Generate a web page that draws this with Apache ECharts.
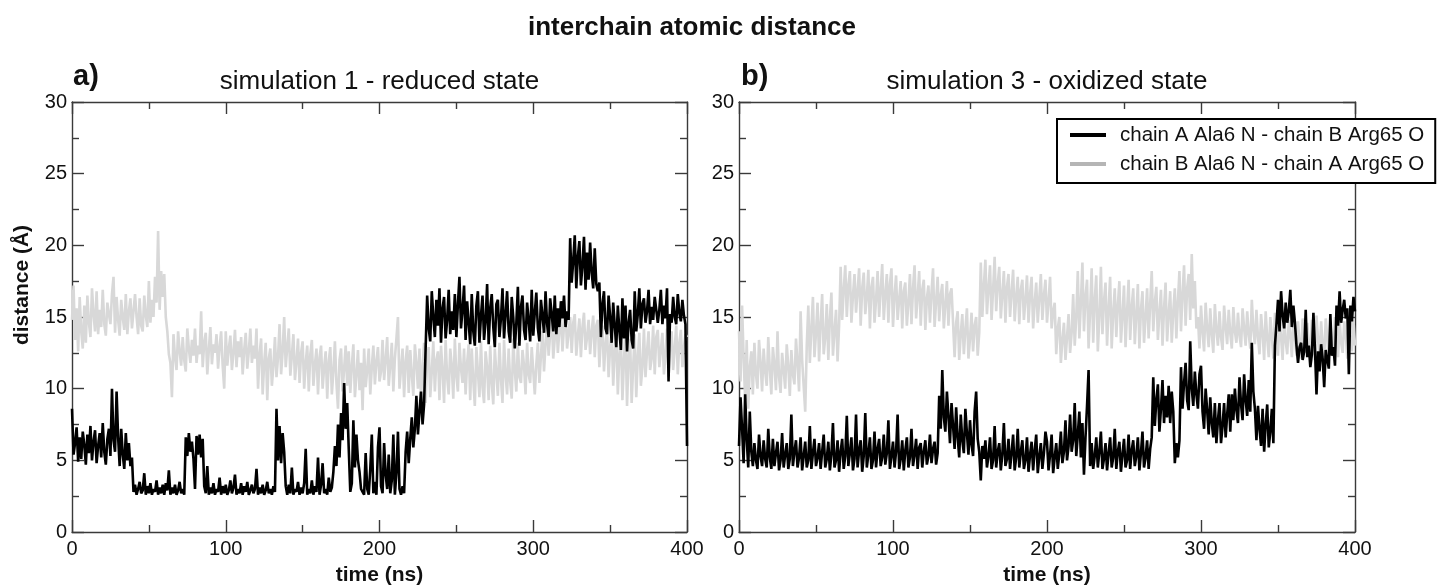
<!DOCTYPE html>
<html>
<head>
    <meta charset="utf-8">
    <title>interchain atomic distance</title>
    <script src="https://cdn.jsdelivr.net/npm/echarts@6/dist/echarts.min.js"></script>
    <style>
        html, body { margin: 0; padding: 0; background: #fff; }
        #main { width: 1445px; height: 587px; }
    </style>
</head>
<body>
<div id="main"></div>
<script type="text/javascript">
    // sampling step of the traces (ns)
    var timeStep = 1;
    var timeTicks = [0, 100, 200, 300, 400];
    var distTicks = [0, 5, 10, 15, 20, 25, 30];

    var mainTitle = 'interchain atomic distance';
    var panelTitles = ['simulation 1 - reduced state', 'simulation 3 - oxidized state'];
    var panelLetters = ['a)', 'b)'];
    var seriesNames = ['chain A Ala6 N - chain B Arg65 O', 'chain B Ala6 N - chain A Arg65 O'];

    // simulation 1, chain A Ala6 N - chain B Arg65 O (one value per ns, 20 per row)
    var sim1ChainA = [
        8.6, 5.4, 6.2, 7.3, 4.9, 6.6, 5.1, 7.0, 6.1, 4.7, 6.8, 5.5, 7.4, 5.0, 6.3, 7.1, 4.8, 6.0, 6.9, 5.2,
        7.6, 5.6, 4.7, 6.5, 7.2, 5.3, 10.0, 6.4, 5.6, 9.8, 6.6, 4.6, 7.2, 5.4, 4.4, 6.9, 5.0, 6.2, 4.6, 5.2,
        2.8, 3.3, 2.6, 3.0, 3.5, 2.7, 2.9, 4.1, 2.6, 3.2, 2.7, 3.4, 2.6, 3.0, 2.8, 3.6, 2.6, 3.1, 2.7, 3.3,
        2.6, 3.4, 2.9, 4.3, 2.6, 3.1, 2.7, 3.3, 2.6, 2.9, 3.5, 2.7, 3.0, 2.6, 6.6, 5.3, 6.9, 5.6, 6.3, 5.1,
        3.0, 6.7, 5.4, 6.8, 5.2, 6.5, 3.2, 2.7, 4.6, 2.6, 3.1, 2.7, 3.4, 2.6, 3.0, 2.8, 3.8, 2.6, 3.2, 2.7,
        3.3, 2.6, 2.9, 3.6, 2.7, 3.1, 4.0, 2.6, 3.0, 2.7, 3.4, 2.6, 3.2, 2.8, 3.5, 2.6, 2.9, 3.3, 2.7, 3.0,
        4.4, 2.6, 3.1, 2.7, 3.3, 2.6, 2.9, 3.5, 2.7, 3.0, 2.6, 3.2, 2.8, 8.6, 5.0, 7.4, 4.8, 6.9, 5.6, 3.2,
        2.6, 3.3, 2.7, 4.5, 2.6, 3.0, 2.8, 3.5, 2.6, 3.1, 2.7, 3.4, 5.8, 2.6, 3.0, 2.7, 3.6, 2.6, 3.2, 2.8,
        5.2, 2.6, 3.3, 4.8, 2.7, 3.0, 2.6, 3.8, 2.8, 3.1, 4.2, 6.0, 4.6, 7.5, 5.2, 8.3, 6.4, 10.4, 7.2, 9.0,
        5.8, 2.8, 3.4, 7.8, 4.5, 6.8, 5.0, 4.2, 3.0, 2.8, 2.6, 5.5, 3.0, 2.6, 4.4, 6.8, 2.7, 3.5, 2.6, 5.9,
        7.3, 3.2, 2.7, 6.2, 4.0, 3.0, 5.4, 2.7, 3.6, 6.8, 2.6, 4.1, 7.0, 3.0, 2.6, 3.2, 2.7, 5.6, 7.0, 4.8,
        6.5, 8.0, 5.9, 7.2, 9.5, 6.8, 8.4, 9.8, 7.5, 8.9, 12.8, 16.5, 14.2, 13.3, 16.8, 15.0, 13.6, 16.2, 14.4, 17.0,
        13.2, 15.6, 16.4, 13.5, 14.8, 16.9, 13.8, 15.4, 14.1, 16.6, 13.6, 15.9, 17.8, 14.2, 15.5, 17.2, 13.4, 16.1, 14.6, 13.1,
        16.6, 14.0, 13.0, 15.8, 16.8, 13.2, 15.1, 16.5, 13.4, 14.7, 17.3, 13.1, 15.6, 16.6, 14.3, 12.9, 15.9, 16.2, 13.6, 14.9,
        17.0, 13.5, 15.2, 16.8, 14.0, 13.2, 16.4, 15.0, 12.8, 14.6, 17.1, 13.0, 15.7, 16.5, 14.1, 13.4, 16.0, 14.8, 13.3, 16.9,
        13.7, 15.3, 16.7, 14.2, 13.3, 16.2, 15.1, 13.9, 16.8, 14.5, 13.6, 16.3, 15.2, 14.0, 16.5, 13.8, 15.6, 14.3, 16.1, 14.9,
        16.5, 14.3, 15.4, 14.8, 20.5, 17.4, 18.9, 20.7, 17.0, 19.2, 20.3, 17.2, 18.6, 20.6, 16.9, 19.5, 17.6, 20.2, 18.1, 17.0,
        19.8, 17.3, 16.8, 17.4, 13.6, 15.9, 16.8, 14.2, 13.8, 16.5, 15.0, 13.2, 16.0, 14.4, 12.9, 15.8, 14.1, 12.7, 16.3, 13.5,
        15.8, 12.6, 14.6, 15.5, 13.4, 12.8, 16.8, 14.0, 15.2, 17.0, 14.2, 15.9, 16.3, 14.6, 15.4, 16.9, 14.5, 15.7, 14.8, 16.4,
        16.3, 14.6, 15.5, 16.9, 14.5, 15.8, 14.9, 17.0, 10.5, 15.2, 14.6, 16.4, 15.0, 14.5, 16.6, 15.3, 14.7, 16.2, 15.1, 14.5,
        6.0
    ];
    // simulation 1, chain B Ala6 N - chain A Arg65 O
    var sim1ChainB = [
        14.8, 17.2, 13.4, 15.6, 12.6, 16.4, 14.0, 12.8, 15.8, 13.2, 16.5, 14.6, 13.6, 17.0, 15.2, 14.0, 16.8, 13.8, 15.5, 14.3,
        16.9, 14.5, 13.7, 16.0, 15.2, 14.5, 16.6, 17.8, 13.9, 16.4, 14.8, 13.7, 16.2, 15.0, 14.1, 16.6, 13.8, 15.4, 16.3, 14.2,
        14.1, 16.6, 15.0, 13.8, 16.3, 14.4, 14.0, 16.5, 15.1, 14.3, 17.5, 14.6, 16.2, 15.0, 17.8, 16.0, 21.0, 15.5, 18.2, 16.4,
        18.0, 15.0, 14.0, 12.4, 11.8, 9.4, 13.8, 12.2, 11.3, 14.0, 12.6, 11.6, 13.6, 12.0, 11.2, 14.2, 12.8, 11.8, 13.4, 12.3,
        14.2, 11.8, 13.0, 12.4, 15.4, 11.5, 13.2, 13.9, 11.0, 12.7, 14.3, 11.7, 13.1, 12.5, 13.8, 11.4, 12.9, 14.0, 11.6, 10.0,
        14.0, 11.6, 12.8, 13.7, 11.3, 12.5, 14.1, 11.5, 13.3, 12.2, 13.6, 11.0, 12.7, 13.9, 11.4, 12.6, 14.2, 11.8, 13.0, 12.1,
        14.2, 10.0, 12.4, 13.5, 9.6, 11.8, 13.2, 9.2, 12.1, 12.8, 10.2, 11.6, 13.6, 10.8, 12.2, 14.5, 11.0, 12.6, 15.0, 11.5,
        12.9, 14.2, 10.9, 12.3, 13.8, 10.6, 11.9, 13.5, 10.4, 12.5, 13.3, 10.0, 11.8, 13.0, 9.8, 12.4, 13.4, 10.2, 11.7, 12.8,
        9.6, 12.2, 13.0, 10.0, 11.5, 12.6, 9.3, 11.9, 12.9, 9.6, 11.2, 13.3, 10.4, 8.6, 12.0, 12.8, 9.8, 11.4, 13.0, 10.2,
        12.6, 9.7, 11.6, 13.1, 9.4, 11.0, 12.7, 9.9, 11.8, 8.5, 12.8, 10.1, 11.3, 12.8, 9.6, 11.5, 13.0, 10.3, 11.9, 12.9,
        10.5, 11.2, 13.4, 10.6, 12.0, 13.6, 10.2, 11.7, 13.2, 9.8, 12.1, 13.5, 15.0, 10.0, 11.4, 12.8, 9.4, 11.9, 13.0, 9.7,
        12.7, 11.0, 9.5, 13.1, 11.8, 10.0, 12.8, 9.3, 11.5, 13.2, 9.0, 12.1, 12.9, 9.4, 11.2, 13.3, 9.8, 12.0, 12.6, 9.2,
        13.0, 11.3, 9.0, 13.4, 10.8, 9.6, 12.8, 11.6, 9.3, 13.5, 10.9, 9.8, 13.2, 11.4, 10.4, 12.8, 9.6, 11.8, 13.1, 9.2,
        12.8, 10.6, 8.8, 12.9, 11.2, 9.4, 13.3, 10.1, 9.0, 12.6, 11.5, 9.2, 13.0, 10.4, 8.9, 12.8, 11.1, 9.5, 13.2, 10.7,
        9.0, 13.4, 11.0, 9.6, 12.8, 10.5, 9.3, 13.5, 11.3, 9.8, 13.2, 10.8, 10.4, 12.7, 11.6, 9.6, 13.2, 11.0, 10.4, 12.9,
        12.8, 9.6, 11.7, 13.2, 10.4, 12.3, 14.0, 11.2, 13.1, 14.7, 12.3, 13.8, 15.2, 12.1, 13.5, 15.0, 12.5, 14.1, 15.3, 12.6,
        14.4, 15.4, 12.8, 13.9, 15.0, 12.5, 14.6, 15.2, 12.3, 13.7, 14.9, 12.2, 14.3, 15.3, 12.7, 13.6, 14.8, 12.4, 14.0, 15.1,
        12.2, 14.4, 14.8, 11.5, 13.6, 14.4, 11.2, 13.1, 14.2, 10.8, 12.9, 14.0, 10.2, 12.6, 13.8, 9.6, 12.4, 13.6, 9.2, 12.0,
        14.0, 8.8, 12.3, 13.5, 9.0, 11.6, 13.8, 9.4, 12.2, 13.9, 10.2, 11.5, 14.2, 10.8, 12.6, 14.0, 11.3, 12.1, 14.4, 11.0,
        13.6, 14.1, 11.5, 12.7, 13.9, 11.0, 12.4, 14.2, 10.8, 13.1, 14.0, 11.3, 12.8, 14.4, 11.0, 13.2, 14.1, 11.5, 12.9, 13.8,
        13.6
    ];
    // simulation 3, chain A Ala6 N - chain B Arg65 O
    var sim3ChainA = [
        6.0, 9.4, 7.2, 4.8, 9.6, 6.5, 4.5, 8.4, 5.6, 4.6, 6.2, 5.0, 4.4, 6.8, 5.3, 4.6, 6.4, 5.1, 4.5, 7.2,
        5.2, 4.4, 6.5, 4.6, 5.5, 6.3, 4.3, 5.0, 6.9, 4.5, 5.4, 6.2, 4.4, 5.1, 8.2, 4.6, 5.6, 6.4, 4.5, 5.2,
        6.6, 4.3, 5.3, 6.3, 4.5, 5.0, 7.4, 4.4, 5.5, 6.5, 4.6, 5.2, 6.2, 4.4, 5.6, 6.8, 4.5, 5.1, 6.3, 4.3,
        5.4, 7.6, 4.5, 5.0, 6.4, 4.2, 5.6, 6.5, 4.4, 5.3, 8.1, 4.6, 5.5, 6.6, 4.3, 5.1, 8.2, 4.5, 5.7, 6.4,
        4.2, 5.3, 8.3, 4.5, 5.4, 6.6, 4.4, 5.0, 7.0, 4.5, 5.8, 6.5, 4.6, 5.2, 6.8, 4.7, 5.5, 7.8, 4.4, 5.3,
        6.3, 4.5, 5.6, 8.2, 4.4, 5.1, 6.4, 4.3, 5.7, 6.6, 4.5, 5.2, 7.2, 4.6, 5.4, 6.5, 4.4, 5.9, 6.2, 4.5,
        5.6, 6.4, 4.7, 5.3, 6.8, 4.8, 5.8, 6.3, 4.7, 5.5, 9.5, 7.2, 11.3, 8.0, 7.0, 9.8, 8.1, 6.2, 9.0, 7.4,
        5.8, 8.7, 6.6, 5.2, 8.2, 6.4, 5.5, 8.6, 6.9, 5.4, 7.8, 6.1, 5.3, 8.4, 9.8, 6.5, 5.6, 3.6, 6.0, 5.1,
        6.4, 4.5, 5.3, 6.6, 4.4, 5.0, 7.4, 4.5, 5.6, 6.2, 4.3, 5.4, 7.6, 4.6, 5.1, 6.5, 4.4, 5.5, 6.8, 4.3,
        5.2, 7.2, 4.5, 5.6, 6.4, 4.4, 5.0, 6.6, 4.2, 5.4, 6.3, 4.3, 5.7, 6.8, 4.1, 5.3, 6.2, 4.4, 5.5, 7.0,
        6.3, 4.3, 5.4, 6.8, 4.1, 5.2, 6.2, 4.4, 5.5, 7.0, 4.8, 5.6, 7.8, 5.0, 6.0, 8.2, 5.6, 6.4, 9.0, 5.3,
        6.8, 8.4, 5.2, 7.6, 4.0, 6.6, 8.8, 11.3, 4.6, 6.2, 4.4, 5.3, 6.6, 4.5, 5.6, 7.0, 4.4, 5.1, 6.2, 4.3,
        5.5, 6.6, 4.5, 5.2, 7.2, 4.4, 5.6, 6.3, 4.2, 5.4, 6.5, 4.5, 5.0, 6.8, 4.4, 5.7, 6.4, 4.6, 5.3, 6.6,
        4.3, 5.5, 7.0, 4.5, 5.2, 6.4, 4.4, 5.8, 6.6, 10.8, 7.4, 9.2, 10.3, 7.0, 8.6, 10.6, 7.6, 9.5, 8.0, 10.2,
        7.6, 9.8, 8.4, 4.8, 6.2, 5.2, 6.4, 11.5, 8.6, 10.4, 11.8, 9.2, 8.5, 13.3, 10.0, 8.8, 11.2, 9.6, 8.6, 11.0,
        11.6, 8.4, 7.2, 10.0, 8.5, 6.8, 9.4, 7.6, 6.6, 9.0, 6.2, 7.8, 9.0, 6.2, 7.4, 9.0, 6.6, 8.2, 9.6, 7.0,
        9.6, 7.8, 10.0, 8.5, 7.6, 10.8, 8.9, 7.8, 11.0, 9.2, 8.1, 10.6, 8.4, 13.2, 9.8, 8.6, 6.4, 8.8, 7.2, 6.0,
        8.6, 5.6, 7.5, 8.9, 5.9, 7.0, 8.6, 6.2, 13.0, 14.5, 16.2, 14.0, 16.8, 15.1, 14.2, 16.0, 14.6, 15.4, 16.9, 14.3,
        15.8, 14.6, 13.0, 11.8, 12.9, 13.2, 12.0, 12.6, 15.5, 12.2, 13.0, 11.5, 12.4, 15.3, 12.8, 9.6, 12.6, 11.2, 13.1, 12.1,
        10.1, 12.7, 12.0, 11.4, 15.2, 12.3, 12.9, 11.6, 15.8, 14.4, 16.8, 14.6, 15.5, 16.2, 14.9, 15.6, 11.0, 15.8, 14.7, 16.4,
        15.4
    ];
    // simulation 3, chain B Ala6 N - chain A Arg65 O
    var sim3ChainB = [
        14.0, 10.5, 15.8, 12.2, 9.2, 13.4, 8.6, 11.5, 12.6, 9.6, 13.2, 11.0, 10.0, 13.4, 11.8, 9.8, 12.8, 11.2, 10.2, 13.6,
        11.4, 9.6, 12.9, 11.7, 9.9, 14.0, 10.8, 9.7, 12.5, 11.3, 10.0, 13.1, 11.6, 9.5, 12.7, 11.0, 10.3, 13.5, 11.8, 9.8,
        15.4, 12.0, 10.2, 8.4, 13.0, 15.8, 11.8, 14.2, 16.4, 12.2, 13.9, 16.0, 11.9, 14.5, 16.6, 12.4, 13.6, 15.9, 12.0, 14.8,
        16.7, 12.3, 14.0, 15.5, 11.9, 14.4, 18.5, 14.8, 16.9, 18.6, 15.0, 17.2, 18.2, 14.6, 16.5, 18.0, 15.3, 16.8, 18.4, 14.4,
        17.0, 18.1, 15.2, 16.4, 18.3, 14.2, 17.1, 17.8, 14.6, 16.2, 18.2, 15.0, 16.9, 18.7, 14.8, 16.6, 18.0, 14.6, 17.3, 18.4,
        14.3, 16.5, 17.9, 14.8, 16.2, 17.5, 14.2, 16.8, 17.4, 14.4, 16.0, 18.0, 14.5, 17.0, 18.6, 14.9, 16.4, 18.2, 14.4, 16.9,
        17.6, 14.1, 16.3, 17.2, 14.6, 16.7, 18.4, 14.3, 16.1, 17.8, 14.7, 16.5, 17.3, 14.2, 15.9, 17.5, 14.4, 16.6, 17.0, 14.6,
        12.2, 14.6, 15.4, 12.0, 13.8, 15.2, 12.4, 14.1, 15.6, 12.1, 13.5, 15.3, 12.6, 14.4, 15.0, 12.3, 13.9, 18.8, 15.0, 17.2,
        19.0, 15.2, 17.0, 18.6, 14.8, 16.9, 19.2, 15.4, 17.3, 18.5, 14.9, 16.6, 18.2, 14.6, 17.1, 18.0, 15.0, 16.7, 18.3, 14.7,
        16.4, 17.8, 14.5, 16.9, 17.6, 14.8, 16.2, 17.9, 14.6, 16.6, 17.8, 14.2, 16.0, 17.4, 14.6, 16.3, 18.0, 14.8, 16.5, 17.6,
        14.6, 16.1, 17.8, 14.2, 15.4, 16.0, 12.4, 14.2, 15.0, 11.8, 13.4, 14.6, 12.0, 13.6, 15.2, 12.5, 13.9, 16.6, 13.0, 15.0,
        18.2, 13.5, 16.0, 18.8, 14.0, 16.4, 17.6, 12.8, 15.5, 18.4, 13.2, 16.2, 17.9, 12.6, 15.0, 18.5, 13.8, 16.1, 17.4, 13.0,
        15.6, 17.8, 12.8, 15.3, 17.0, 13.6, 15.8, 17.5, 13.2, 15.1, 17.2, 12.9, 15.4, 17.6, 13.4, 15.7, 17.0, 13.1, 15.2, 17.3,
        12.8, 15.5, 16.8, 13.2, 15.0, 17.0, 13.5, 15.9, 18.2, 14.0, 16.0, 17.1, 13.4, 15.3, 16.9, 13.0, 15.6, 17.4, 13.3, 15.2,
        16.8, 13.2, 15.4, 17.0, 13.5, 16.1, 18.2, 14.0, 16.6, 18.6, 14.4, 17.0, 18.0, 14.8, 19.4, 15.6, 17.5, 14.2, 15.0, 12.8,
        15.8, 14.0, 12.6, 16.0, 14.2, 12.9, 15.6, 13.8, 12.5, 15.9, 14.1, 13.0, 15.4, 13.6, 12.7, 15.8, 14.3, 13.1, 15.5, 13.9,
        12.8, 15.7, 14.0, 13.2, 15.3, 13.7, 12.9, 15.6, 14.2, 13.0, 15.4, 13.8, 12.8, 16.2, 14.1, 13.1, 15.5, 13.6, 12.4, 15.2,
        13.9, 12.0, 15.4, 13.5, 12.2, 15.0, 13.7, 12.1, 15.3, 13.4, 12.3, 14.9, 13.6, 12.0, 15.1, 13.3, 12.4, 14.8, 13.8, 12.2,
        15.0, 13.5, 12.3, 14.7, 13.2, 12.1, 14.9, 13.6, 12.5, 14.6, 13.1, 12.2, 14.8, 13.7, 12.0, 15.1, 13.4, 12.3, 14.7, 13.0,
        12.2, 14.9, 13.5, 12.1, 14.6, 13.3, 12.4, 15.0, 13.6, 12.2, 14.8, 13.2, 12.5, 14.7, 13.8, 12.1, 14.9, 13.4, 12.6, 14.8,
        13.0
    ];

    var fontFamily = '"Liberation Sans", Arial, sans-serif';
    var axisColor = '#3a3a3a';
    var blackColor = '#000000';
    var greyColor = '#d8d8d8';

    function toPairs(values) {
        return values.map(function (v, i) { return [i * timeStep, v]; });
    }

    function makeAxis(ticks, gridIndex, position, showLabel, labelMargin) {
        return {
            type: 'value',
            gridIndex: gridIndex,
            position: position,
            min: ticks[0],
            max: ticks[ticks.length - 1],
            interval: ticks[1] - ticks[0],
            axisLine: { show: true, onZero: false, lineStyle: { color: axisColor, width: 1.4 } },
            axisTick: { show: true, inside: true, length: 12, lineStyle: { color: axisColor, width: 1.4 } },
            minorTick: { show: true, splitNumber: 2, length: 7, lineStyle: { color: axisColor, width: 1.4 } },
            splitLine: { show: false },
            minorSplitLine: { show: false },
            axisLabel: { show: showLabel, fontSize: 20, color: '#111', margin: labelMargin, fontFamily: fontFamily }
        };
    }

    var xAxes = [];
    var yAxes = [];
    for (var g = 0; g < 2; g++) {
        var xb = makeAxis(timeTicks, g, 'bottom', true, 7);
        xb.name = 'time (ns)';
        xb.nameLocation = 'middle';
        xb.nameGap = 33;
        xb.nameTextStyle = { fontSize: 21, fontWeight: 'bold', color: '#111', fontFamily: fontFamily };
        xAxes.push(xb);
        xAxes.push(makeAxis(timeTicks, g, 'top', false, 5));
        yAxes.push(makeAxis(distTicks, g, 'left', true, 5));
        yAxes.push(makeAxis(distTicks, g, 'right', false, 5));
    }

    function lineSeries(name, values, g, color, z) {
        return {
            type: 'line',
            name: name,
            xAxisIndex: g * 2,
            yAxisIndex: g * 2,
            data: toPairs(values),
            symbol: 'none',
            showSymbol: false,
            sampling: null,
            silent: true,
            z: z,
            lineStyle: { color: color, width: 2.6, join: 'bevel' },
            itemStyle: { color: color }
        };
    }

    var myChart = echarts.init(document.getElementById('main'), null, { renderer: 'canvas' });

    myChart.setOption({
        animation: false,
        backgroundColor: '#ffffff',
        textStyle: { fontFamily: fontFamily },
        grid: [
            { left: 72, top: 102, width: 615, height: 430, outerBoundsMode: 'none' },
            { left: 739, top: 102, width: 616, height: 430, outerBoundsMode: 'none' }
        ],
        xAxis: xAxes,
        yAxis: yAxes,
        legend: {
            orient: 'vertical',
            left: 1057,
            top: 119,
            icon: 'rect',
            itemWidth: 36,
            itemHeight: 4,
            itemGap: 5,
            padding: [4, 11, 7, 13],
            borderColor: '#000',
            borderWidth: 2,
            backgroundColor: '#fff',
            selectedMode: false,
            textStyle: { fontSize: 20.5, color: '#111', lineHeight: 24, padding: [0, 0, 0, 9], fontFamily: fontFamily },
            data: [
                { name: seriesNames[0], itemStyle: { color: blackColor } },
                { name: seriesNames[1], itemStyle: { color: '#b5b5b5' } }
            ]
        },
        graphic: [
            { type: 'text', x: 692, y: 28, style: { text: mainTitle, fontSize: 26, fontWeight: 'bold', fontFamily: fontFamily, fill: '#111', align: 'center', verticalAlign: 'middle' } },
            { type: 'text', x: 379.5, y: 82, style: { text: panelTitles[0], fontSize: 26, fontFamily: fontFamily, fill: '#111', align: 'center', verticalAlign: 'middle' } },
            { type: 'text', x: 1047, y: 82, style: { text: panelTitles[1], fontSize: 26, fontFamily: fontFamily, fill: '#111', align: 'center', verticalAlign: 'middle' } },
            { type: 'text', x: 73, y: 77, style: { text: panelLetters[0], fontSize: 29, fontWeight: 'bold', fontFamily: fontFamily, fill: '#111', align: 'left', verticalAlign: 'middle' } },
            { type: 'text', x: 741, y: 77, style: { text: panelLetters[1], fontSize: 29, fontWeight: 'bold', fontFamily: fontFamily, fill: '#111', align: 'left', verticalAlign: 'middle' } },
            { type: 'text', x: 22, y: 285, rotation: Math.PI / 2, style: { text: 'distance (Å)', fontSize: 21, fontWeight: 'bold', fontFamily: fontFamily, fill: '#111', align: 'center', verticalAlign: 'middle' } }
        ],
        series: [
            lineSeries(seriesNames[1], sim1ChainB, 0, greyColor, 2),
            lineSeries(seriesNames[0], sim1ChainA, 0, blackColor, 3),
            lineSeries(seriesNames[1], sim3ChainB, 1, greyColor, 2),
            lineSeries(seriesNames[0], sim3ChainA, 1, blackColor, 3)
        ]
    });
</script>
</body>
</html>
